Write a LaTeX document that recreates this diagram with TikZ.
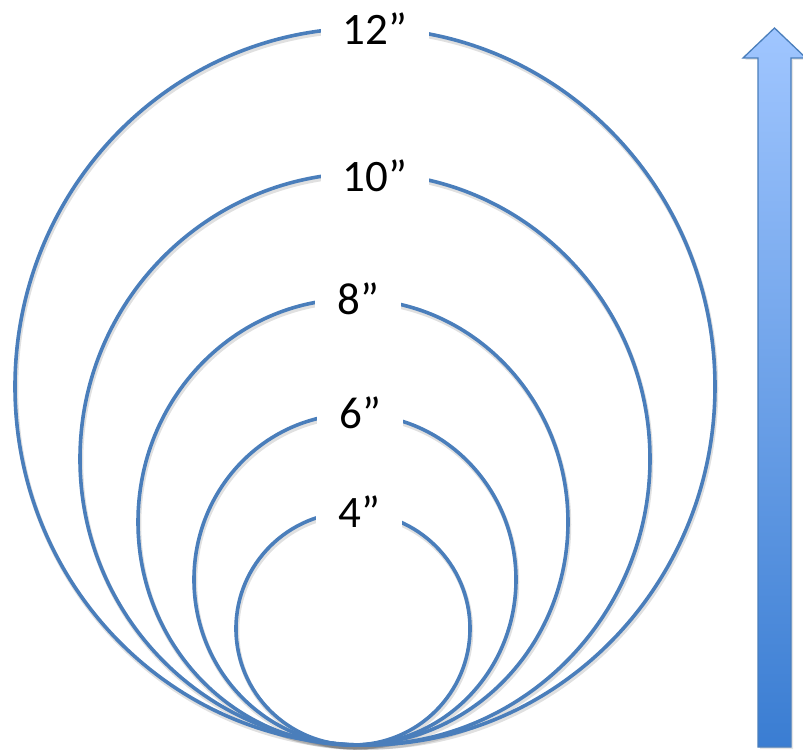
\documentclass[tikz,border=0pt]{standalone}
\usepackage{fontspec}
\setmainfont{Carlito}
\definecolor{ringblue}{RGB}{74,126,187}
\definecolor{arrtop}{RGB}{160,198,255}
\definecolor{arrbot}{RGB}{58,125,210}
\tikzset{
  ring/.style={draw=ringblue, line width=3.6pt},
  ringshadow/.style={draw=black, draw opacity=0.12, line width=4.5pt},
  lbl/.style={fill=white, font=\fontsize{45}{45}\selectfont, inner xsep=22pt, inner ysep=4pt, text height=28pt, text depth=0pt}
}
\begin{document}
\begin{tikzpicture}[x=1pt,y=-1pt]
\useasboundingbox (0,0) rectangle (803,752);
% shadows
\foreach \cx/\cy/\rx/\ry in {365/386.5/350/358.5, 365/459/285/286, 353/522/215/223, 355/579.5/161/165.5, 353/628.5/117/116.5}{
  \draw[ringshadow] (\cx+1,\cy+2.5) ellipse [x radius=\rx pt, y radius=\ry pt];
}
% rings
\draw[ring] (365,386.5) ellipse [x radius=350pt, y radius=358.5pt];
\draw[ring] (365,459) ellipse [x radius=285pt, y radius=286pt];
\draw[ring] (353,522) ellipse [x radius=215pt, y radius=223pt];
\draw[ring] (355,579.5) ellipse [x radius=161pt, y radius=165.5pt];
\draw[ring] (353,628.5) ellipse [x radius=117pt, y radius=116.5pt];
% labels
\node[lbl] (l12) at (375,31) {12”};
\node[lbl] (l10) at (375,177) {10”};
\node[lbl] (l8) at (358,300) {8”};
\node[lbl] (l6) at (360,414) {6”};
\node[lbl] (l4) at (359,513) {4”};
% arrow shadow
\fill[black, opacity=0.1] (760,749) -- (760,60) -- (745,60) -- (776.5,30) -- (808,60) -- (793,60) -- (793,749) -- cycle;
% arrow
\shade[top color=arrtop, bottom color=arrbot, draw=ringblue, line width=1.3pt]
  (758,747) -- (758,58) -- (743,58) -- (774.5,28) -- (806,58) -- (791,58) -- (791,747) -- cycle;
\end{tikzpicture}
\end{document}
